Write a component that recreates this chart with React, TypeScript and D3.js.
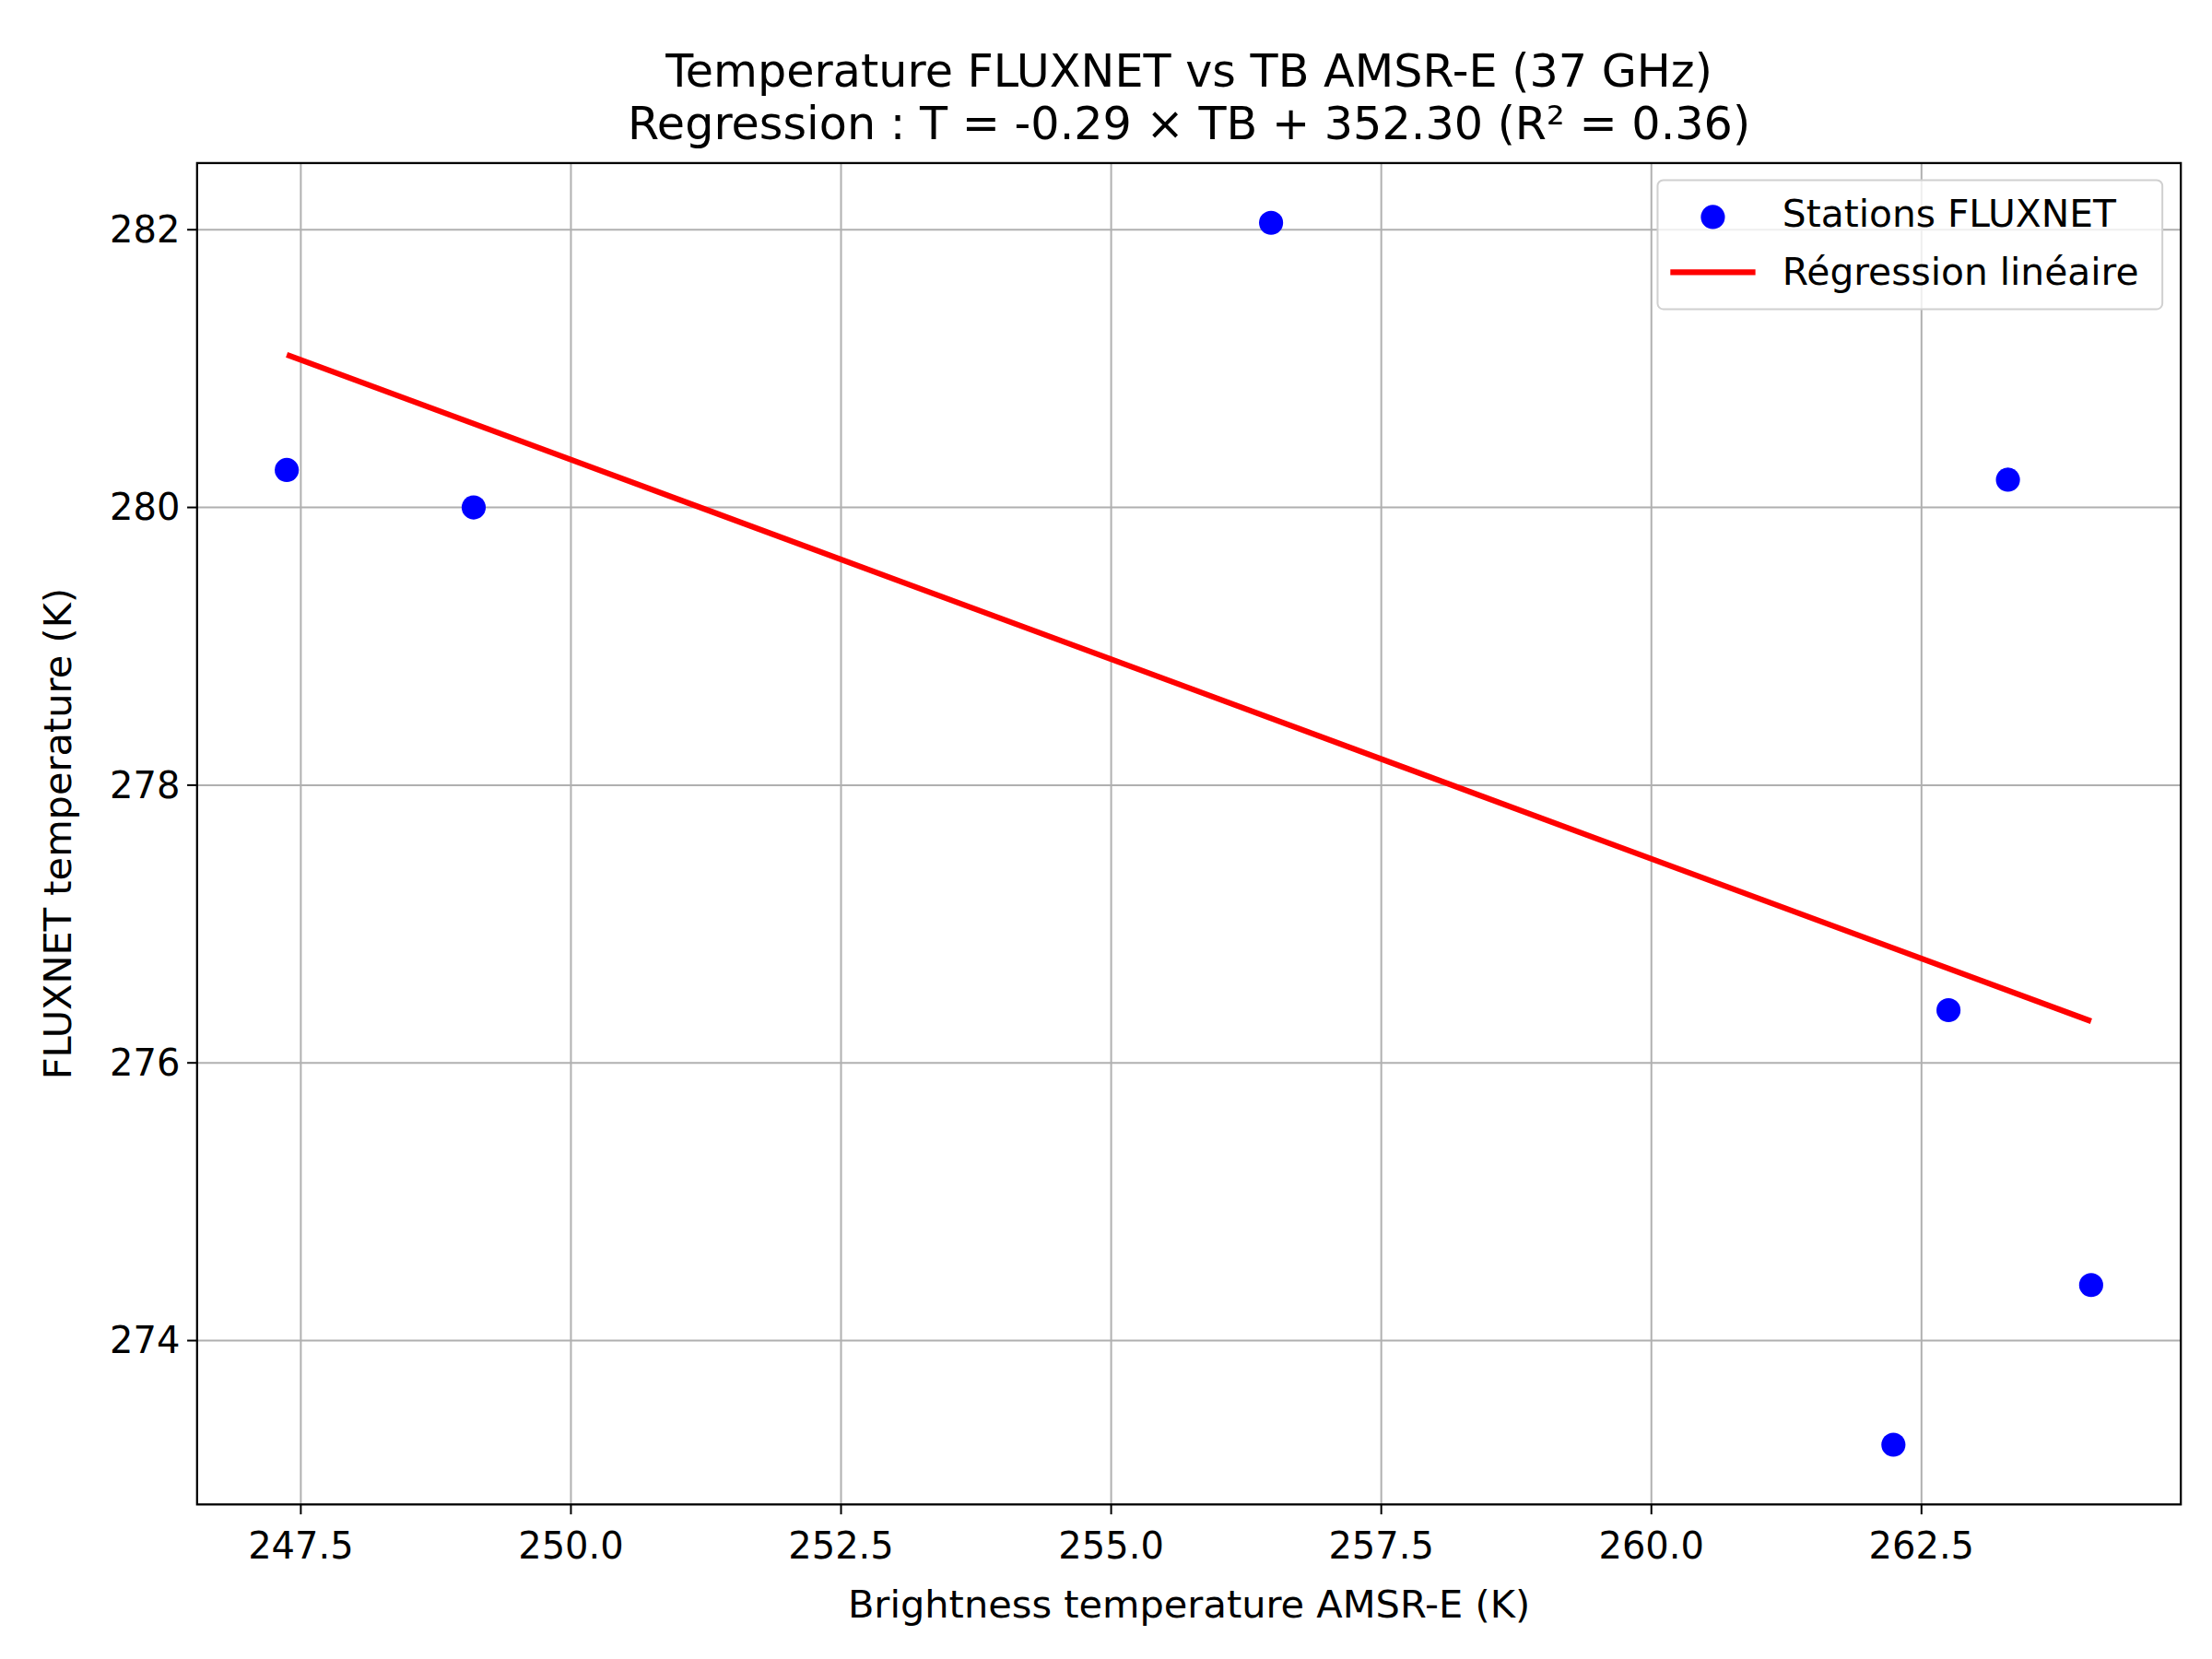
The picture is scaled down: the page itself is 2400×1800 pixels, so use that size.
import * as d3 from 'd3';

// Station points (TB AMSR-E, FLUXNET temperature)
const tbValues = [247.37, 249.1, 256.48, 262.75, 263.3, 264.07, 262.24];
const fluxValues = [280.27, 280.0, 282.05, 276.38, 280.2, 274.4, 273.25];
// Regression line endpoints
const regX = [247.37, 264.07];
const regY = [281.1, 276.3];
const xTicks = [247.5, 250, 252.5, 255, 257.5, 260, 262.5];
const yTicks = [274, 276, 278, 280, 282];

const W = 1560, H = 1170;
const m = { left: 139, right: 1538, top: 115, bottom: 1061 };
const font = 'DejaVu Sans, sans-serif';

export default function App() {
  const x = d3.scaleLinear().domain([246.54, 264.9]).range([m.left, m.right]);
  const y = d3.scaleLinear().domain([272.82, 282.48]).range([m.bottom, m.top]);
  const line = d3.line<number>().x((d) => x(regX[d])).y((d) => y(regY[d]));

  return (
    <svg width={2400} height={1800} viewBox={`0 0 ${W} ${H}`}
      style={{ position: 'absolute', left: 0, top: 0, background: 'white' }} fontFamily={font}>
      {xTicks.map((t) => (
        <g key={'x' + t}>
          <line x1={x(t)} x2={x(t)} y1={m.top} y2={m.bottom} stroke="#b0b0b0" strokeWidth={1.3} />
          <line x1={x(t)} x2={x(t)} y1={m.bottom} y2={m.bottom + 7} stroke="black" strokeWidth={1.3} />
          <text x={x(t)} y={m.bottom + 38} textAnchor="middle" fontSize={26}>{t.toFixed(1)}</text>
        </g>
      ))}
      {yTicks.map((t) => (
        <g key={'y' + t}>
          <line x1={m.left} x2={m.right} y1={y(t)} y2={y(t)} stroke="#b0b0b0" strokeWidth={1.3} />
          <line x1={m.left - 7} x2={m.left} y1={y(t)} y2={y(t)} stroke="black" strokeWidth={1.3} />
          <text x={m.left - 12} y={y(t) + 9} textAnchor="end" fontSize={26}>{t}</text>
        </g>
      ))}
      {tbValues.map((v, i) => (
        <circle key={i} cx={x(v)} cy={y(fluxValues[i])} r={8.5} fill="#0000ff" />
      ))}
      <path d={line([0, 1]) ?? ''} stroke="#ff0000" strokeWidth={4} fill="none" />
      <rect x={m.left} y={m.top} width={m.right - m.left} height={m.bottom - m.top}
        fill="none" stroke="black" strokeWidth={1.5} />
      <g>
        <rect x={1169} y={127} width={356} height={91} rx={4} fill="white" fillOpacity={0.8} stroke="#d0d0d0" strokeWidth={1.3} />
        <circle cx={1208} cy={153} r={8.5} fill="#0000ff" />
        <text x={1257} y={160} fontSize={26.5}>Stations FLUXNET</text>
        <line x1={1178} x2={1238} y1={192} y2={192} stroke="#ff0000" strokeWidth={4} />
        <text x={1257} y={201} fontSize={26.5}>Régression linéaire</text>
      </g>
      <text x={(m.left + m.right) / 2} y={61} textAnchor="middle" fontSize={32}>Temperature FLUXNET vs TB AMSR-E (37 GHz)</text>
      <text x={(m.left + m.right) / 2} y={98} textAnchor="middle" fontSize={32}>Regression : T = -0.29 × TB + 352.30 (R² = 0.36)</text>
      <text x={(m.left + m.right) / 2} y={1141} textAnchor="middle" fontSize={27}>Brightness temperature AMSR-E (K)</text>
      <text transform={`translate(50,${(m.top + m.bottom) / 2}) rotate(-90)`} textAnchor="middle" fontSize={27}>FLUXNET temperature (K)</text>
    </svg>
  );
}
